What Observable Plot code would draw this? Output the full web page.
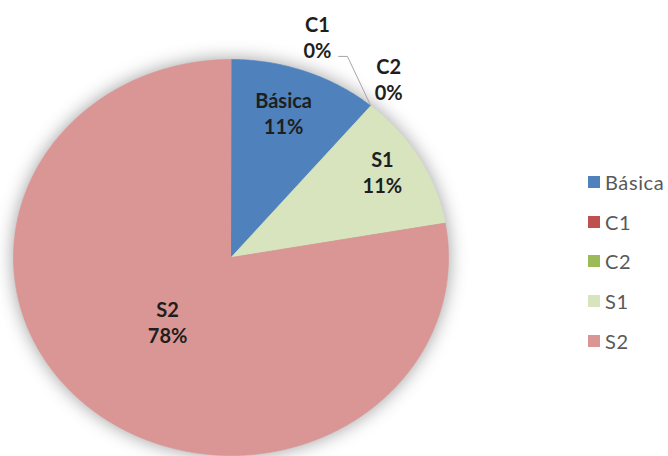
<!DOCTYPE html>
<html>
<head>
<meta charset="utf-8">
<script src="https://cdn.jsdelivr.net/npm/d3@7"></script>
<script src="https://cdn.jsdelivr.net/npm/@observablehq/plot@0.6"></script>
<style>
  html, body { margin: 0; padding: 0; background: #fff; }
  #wrap { position: relative; width: 668px; height: 456px; overflow: hidden; background: #fff; }
  #chart { position: absolute; left: 0; top: 0; }
  #chart svg g[aria-label="line"] { filter: drop-shadow(0 0 9px rgba(0,0,0,0.38)); }
  #legend { position: absolute; left: 588px; top: 162px; width: 140px; }
  #legend > div { margin: 0 !important; font-family: Lato, "Open Sans", sans-serif !important; font-size: 20px !important; letter-spacing: 0.6px; color: #595959 !important; }
  #legend > div > div { height: 39.8px !important; display: flex !important; align-items: center !important; padding: 0 !important; margin: 0 !important; white-space: nowrap; }
  #legend svg { margin-right: 5px !important; flex-shrink: 0; }
  #legend > div > div > div { overflow: visible !important; text-overflow: clip !important; }
</style>
</head>
<body>
<div id="wrap"><div id="chart"></div><div id="legend"></div></div>
<script>
// ---- data ----
const categories = ["Básica", "C1", "C2", "S1", "S2"];
const values = [1, 0, 0, 1, 7];
const colors = ["#4F81BD", "#C0504D", "#9BBB59", "#D7E4BD", "#D99694"];

// ---- derived pie geometry (unit circle, y up) ----
const total = d3.sum(values);
const arcs = d3.pie().sort(null).value(d => d)(values);
const slices = arcs.map((a, i) => ({
  cat: categories[i],
  value: values[i],
  start: a.startAngle,
  end: a.endAngle,
  pct: Math.round(values[i] / total * 100) + "%"
}));

const pts = [];
for (const s of slices) {
  if (s.value <= 0) continue;
  pts.push({cat: s.cat, x: 0, y: 0});
  const n = Math.max(2, Math.ceil((s.end - s.start) / (Math.PI / 360)));
  for (let k = 0; k <= n; k++) {
    const a = s.start + (s.end - s.start) * k / n;
    pts.push({cat: s.cat, x: Math.sin(a), y: Math.cos(a)});
  }
}

// label layout (polar: radius in pie radii, angle in degrees clockwise from top)
const labelPlace = {
  "Básica": {r: 0.77, deg: 18.3},
  "C1": {r: 1.185, deg: 19.6},
  "C2": {r: 1.157, deg: 38.8},
  "S1": {r: 0.82, deg: 58.1},
  "S2": {r: 0.437, deg: 221.8}
};
const rad = d => d * Math.PI / 180;
const labels = slices.map(s => {
  const p = labelPlace[s.cat];
  return {text: s.cat + "\n" + s.pct, x: p.r * Math.sin(rad(p.deg)), y: p.r * Math.cos(rad(p.deg))};
});

// leader line for the C1 label to its (zero-width) slice edge
const c1 = slices.find(s => s.cat === "C1");
const lp = [
  {x: 1.129 * Math.sin(rad(25.9)), y: 1.129 * Math.cos(rad(25.9))},
  {x: 1.148 * Math.sin(rad(27.8)), y: 1.148 * Math.cos(rad(27.8))},
  {x: Math.sin(c1.end), y: Math.cos(c1.end)}
];
const leader = [
  {x1: lp[0].x, y1: lp[0].y, x2: lp[1].x, y2: lp[1].y},
  {x1: lp[1].x, y1: lp[1].y, x2: lp[2].x, y2: lp[2].y}
];

const chart = Plot.plot({
  width: 668,
  height: 456,
  margin: 0,
  style: {background: "transparent", overflow: "visible"},
  x: {domain: [-1, 1], range: [13, 448], axis: null},
  y: {domain: [-1, 1], range: [455, 59], axis: null},
  color: {domain: categories, range: colors},
  marks: [
    Plot.line(pts, {x: "x", y: "y", z: "cat", fill: "cat", stroke: "cat", strokeWidth: 0.6, curve: "linear-closed"}),
    Plot.link(leader, {x1: "x1", y1: "y1", x2: "x2", y2: "y2", stroke: "#a6a6a6", strokeWidth: 1}),
    Plot.text(labels, {x: "x", y: "y", text: "text", fontSize: 20, fontWeight: "bold", fontFamily: "Lato, 'Open Sans', sans-serif", lineHeight: 1.3, fill: "#1e1e1e"})
  ]
});
document.getElementById("chart").appendChild(chart);

const legend = Plot.legend({
  color: {domain: categories, range: colors},
  swatchSize: 12,
  columns: 1
});
document.getElementById("legend").appendChild(legend);
</script>
</body>
</html>
